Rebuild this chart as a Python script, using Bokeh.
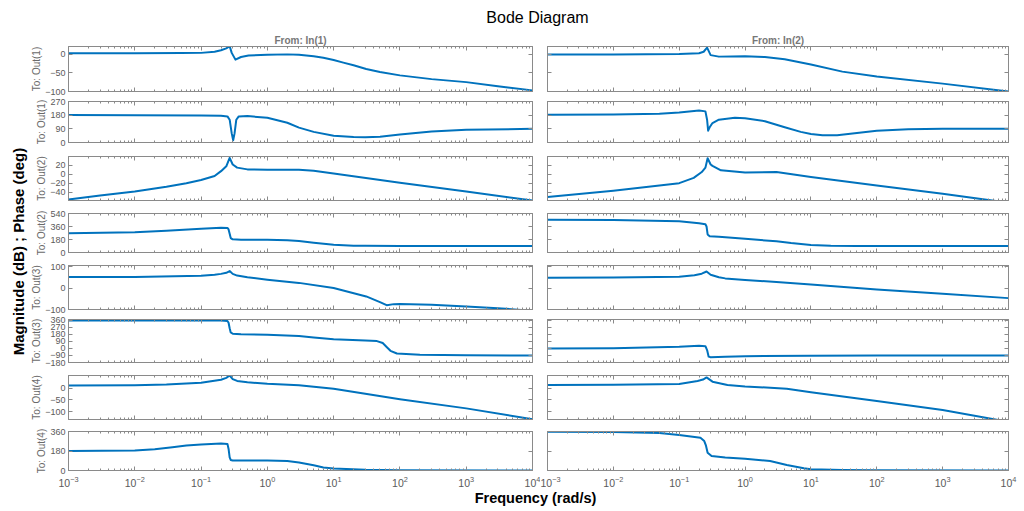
import math
from bokeh.plotting import figure
from bokeh.layouts import row, column
from bokeh.models import LogAxis, LinearAxis, FixedTicker, Label, Range1d, LogTickFormatter
from bokeh.embed import file_html
from bokeh.resources import INLINE

# ---------------- texts / ticks ----------------
title_text = "Bode Diagram"
x_label = "Frequency  (rad/s)"
y_label = "Magnitude (dB) ; Phase (deg)"
input_names = ["From: In(1)", "From: In(2)"]
row_labels = ["To: Out(1)", "To: Out(1)", "To: Out(2)", "To: Out(2)",
              "To: Out(3)", "To: Out(3)", "To: Out(4)", "To: Out(4)"]
freq_ticks = [0.001, 0.01, 0.1, 1, 10, 100, 1000, 10000]

ylim_mag1 = [-100, 20];   yticks_mag1 = [-100, -50, 0]
ylim_ph1 = [0, 270];      yticks_ph1 = [0, 90, 180, 270]
ylim_mag2 = [-59, 40];    yticks_mag2 = [-40, -20, 0, 20]
ylim_ph2 = [0, 540];      yticks_ph2 = [0, 180, 360, 540]
ylim_mag3 = [-100, 105];  yticks_mag3 = [-100, 0, 100]
ylim_ph3 = [-180, 372];   yticks_ph3 = [-180, -90, 0, 90, 180, 270, 360]
ylim_mag4 = [-133, 53];   yticks_mag4 = [-100, -50, 0]
ylim_ph4 = [0, 362];      yticks_ph4 = [0, 180, 360]

# ---------------- data: From In(1) ----------------
w_mag_o1_i1 = [0.001, 0.01, 0.05, 0.1, 0.16, 0.2, 0.24, 0.27, 0.29, 0.33, 0.4, 0.52, 1, 2, 3, 5, 7, 10, 14, 20, 31, 50, 100, 300, 1000, 3000, 10000]
mag_o1_i1 = [2, 2, 2.5, 3, 6, 10, 15, 21, 3, -15, -8, -4, -2, -1, -2, -6, -10, -16, -23, -30, -40, -48, -57, -67, -75, -86, -97]

w_ph_o1_i1 = [0.001, 0.01, 0.1, 0.2, 0.25, 0.27, 0.29, 0.305, 0.32, 0.34, 0.37, 0.5, 1, 2, 3, 5, 10, 20, 30, 50, 100, 300, 1000, 10000]
ph_o1_i1 = [181, 180, 178, 176, 172, 150, 60, 15, 60, 150, 172, 174, 163, 130, 98, 70, 45, 36, 35, 38, 52, 72, 84, 90]

w_mag_o2_i1 = [0.001, 0.003, 0.01, 0.03, 0.06, 0.1, 0.16, 0.2, 0.24, 0.27, 0.3, 0.35, 0.5, 1, 3, 5, 10, 100, 1000, 10000]
mag_o2_i1 = [-57, -48, -39, -28, -20, -13, -4, 7, 18, 37, 22, 15, 11, 10, 10, 8, 2, -19, -39, -59]

w_ph_o2_i1 = [0.001, 0.01, 0.03, 0.1, 0.2, 0.25, 0.26, 0.27, 0.28, 0.3, 0.4, 1, 2, 3, 5, 10, 20, 30, 100, 10000]
ph_o2_i1 = [268, 282, 300, 330, 343, 340, 320, 260, 200, 182, 178, 175, 168, 158, 135, 108, 95, 92, 90, 90]

w_mag_o3_i1 = [0.001, 0.01, 0.1, 0.16, 0.2, 0.24, 0.27, 0.3, 0.35, 0.5, 1, 3, 10, 31, 50, 63, 81, 100, 300, 1000, 3000, 6000, 10000]
mag_o3_i1 = [52, 52, 57, 62, 66, 71, 79, 66, 58, 50, 39, 24, 0, -39, -66, -80, -75, -74, -78, -86, -94, -101, -106]

w_ph_o3_i1 = [0.001, 0.1, 0.2, 0.25, 0.26, 0.27, 0.28, 0.3, 0.4, 1, 3, 5, 10, 30, 45, 55, 63, 72, 90, 200, 1000, 10000]
ph_o3_i1 = [360, 360, 358, 352, 330, 260, 205, 190, 184, 176, 160, 140, 118, 102, 95, 70, 20, -30, -65, -80, -88, -90]

w_mag_o4_i1 = [0.001, 0.01, 0.03, 0.1, 0.2, 0.24, 0.27, 0.3, 0.35, 0.5, 1, 3, 10, 30, 100, 1000, 10000]
mag_o4_i1 = [11, 12, 15, 22, 35, 43, 53, 38, 30, 24, 18, 12, -3, -24, -47, -86, -132]

w_ph_o4_i1 = [0.001, 0.01, 0.02, 0.037, 0.06, 0.1, 0.2, 0.25, 0.26, 0.27, 0.28, 0.3, 1, 2, 3, 5, 7, 10, 30, 100, 10000]
ph_o4_i1 = [180, 185, 198, 216, 232, 241, 250, 247, 200, 122, 98, 93, 92, 88, 75, 48, 28, 18, 6, 2, 0]

# ---------------- data: From In(2) ----------------
w_mag_o1_i2 = [0.001, 0.01, 0.1, 0.2, 0.235, 0.265, 0.3, 0.4, 1, 2, 4, 10, 30, 100, 1000, 10000]
mag_o1_i2 = [-1, -1, 0, 2, 6, 17, -3, -7, -6, -8, -14, -28, -47, -60, -79, -100]

w_ph_o1_i2 = [0.001, 0.01, 0.05, 0.1, 0.2, 0.25, 0.265, 0.275, 0.29, 0.32, 0.4, 0.7, 1, 2, 4, 7, 10, 15, 25, 50, 100, 300, 1000, 10000]
ph_o1_i2 = [182, 184, 190, 197, 210, 205, 150, 78, 100, 128, 150, 163, 160, 140, 100, 70, 56, 47, 48, 62, 77, 87, 90, 90]

w_mag_o2_i2 = [0.001, 0.01, 0.1, 0.166, 0.22, 0.25, 0.27, 0.3, 0.32, 0.43, 1, 3, 10, 100, 1000, 10000]
mag_o2_i2 = [-51, -37, -20, -8, 5, 15, 36, 22, 19, 9, 4, 5, -6, -25, -44, -64]

w_ph_o2_i2 = [0.001, 0.01, 0.1, 0.2, 0.25, 0.26, 0.27, 0.29, 0.4, 1, 3, 5, 10, 20, 50, 10000]
ph_o2_i2 = [453, 450, 432, 405, 392, 360, 250, 225, 218, 190, 155, 130, 103, 93, 91, 90]

w_mag_o3_i2 = [0.001, 0.01, 0.1, 0.17, 0.22, 0.26, 0.3, 0.4, 0.5, 1, 3, 10, 100, 1000, 10000]
mag_o3_i2 = [48, 49, 53, 60, 67, 77, 62, 50, 45, 38, 28, 16, -7, -27, -47]

w_ph_o3_i2 = [0.001, 0.01, 0.1, 0.2, 0.25, 0.265, 0.28, 0.3, 0.5, 1, 10, 100, 10000]
ph_o3_i2 = [0, 4, 22, 35, 30, -20, -105, -112, -105, -100, -92, -90, -90]

w_mag_o4_i2 = [0.001, 0.01, 0.1, 0.19, 0.23, 0.26, 0.32, 0.54, 1, 4.3, 10, 100, 1000, 10000]
mag_o4_i2 = [13, 14, 17, 30, 36, 45, 27, 13, 7, -3, -18, -55, -93, -143]

w_ph_o4_i2 = [0.001, 0.01, 0.05, 0.1, 0.21, 0.24, 0.255, 0.27, 0.31, 0.5, 1, 2.4, 4.3, 7.8, 10, 30, 100, 10000]
ph_o4_i2 = [360, 358, 348, 329, 304, 273, 230, 165, 134, 120, 110, 88, 51, 20, 12, 5, 2, 0]

ROWS = [
    (ylim_mag1, yticks_mag1, [(w_mag_o1_i1, mag_o1_i1), (w_mag_o1_i2, mag_o1_i2)]),
    (ylim_ph1, yticks_ph1, [(w_ph_o1_i1, ph_o1_i1), (w_ph_o1_i2, ph_o1_i2)]),
    (ylim_mag2, yticks_mag2, [(w_mag_o2_i1, mag_o2_i1), (w_mag_o2_i2, mag_o2_i2)]),
    (ylim_ph2, yticks_ph2, [(w_ph_o2_i1, ph_o2_i1), (w_ph_o2_i2, ph_o2_i2)]),
    (ylim_mag3, yticks_mag3, [(w_mag_o3_i1, mag_o3_i1), (w_mag_o3_i2, mag_o3_i2)]),
    (ylim_ph3, yticks_ph3, [(w_ph_o3_i1, ph_o3_i1), (w_ph_o3_i2, ph_o3_i2)]),
    (ylim_mag4, yticks_mag4, [(w_mag_o4_i1, mag_o4_i1), (w_mag_o4_i2, mag_o4_i2)]),
    (ylim_ph4, yticks_ph4, [(w_ph_o4_i1, ph_o4_i1), (w_ph_o4_i2, ph_o4_i2)]),
]

# ---------------- styling / geometry ----------------
FONT = "Liberation Sans"
FRAME = "#8a8a8a"
TXT = "#5a5a5a"
LINE = "#0072BD"
H = [68, 53, 57, 52, 56, 54, 57, 65]
BT = [18, 5, 7, 7, 7, 5, 7, 6]
BB = [5, 7, 6, 6, 5, 6, 6, 20]
YLAB_W = 28
LEFT_W = 540 - YLAB_W

minor_x = [m * t for t in freq_ticks[:-1] for m in range(2, 10)]


def tick_style(ax, show_labels):
    ax.axis_line_color = FRAME
    ax.major_tick_line_color = FRAME
    ax.minor_tick_line_color = FRAME
    ax.major_tick_in = 4
    ax.major_tick_out = 0
    ax.minor_tick_in = 2
    ax.minor_tick_out = 0
    if show_labels:
        ax.major_label_text_font = FONT
        ax.major_label_text_font_size = "9px"
        ax.major_label_text_color = TXT
        ax.major_label_standoff = 3
    else:
        ax.major_label_text_font_size = "1px"
        ax.major_label_text_alpha = 0
        ax.major_label_standoff = 0


def make_panel(r, c):
    ylim, yticks, curves = ROWS[r]
    w, v = curves[c]
    left = (c == 0)
    p = figure(width=LEFT_W if left else 484, height=H[r], x_axis_type="log",
               x_range=Range1d(freq_ticks[0], freq_ticks[-1]), y_range=Range1d(ylim[0], ylim[1]),
               output_backend="svg", toolbar_location=None,
               min_border_left=68 - YLAB_W if left else 7, min_border_right=8 if left else 16,
               min_border_top=BT[r], min_border_bottom=BB[r],
               outline_line_color=FRAME, background_fill_color="white",
               border_fill_color="white")
    p.grid.visible = False
    p.line(w, v, line_color=LINE, line_width=2, line_join="round")

    xb = p.xaxis[0]
    xb.ticker = FixedTicker(ticks=freq_ticks, minor_ticks=minor_x)
    tick_style(xb, r == 7)
    if r == 7:
        xb.formatter = LogTickFormatter()
        xb.major_label_text_font_size = "10.5px"
        xb.major_label_standoff = 5
    xa = LogAxis(ticker=FixedTicker(ticks=freq_ticks, minor_ticks=minor_x))
    tick_style(xa, False)
    p.add_layout(xa, "above")

    yl = p.yaxis[0]
    yl.ticker = FixedTicker(ticks=yticks)
    tick_style(yl, left)
    yl.minor_tick_line_color = None
    if left:
        yl.axis_label = row_labels[r]
        yl.axis_label_text_font = FONT
        yl.axis_label_text_font_size = "10px"
        yl.axis_label_text_font_style = "normal"
        yl.axis_label_text_color = "#6a6a6a"
        yl.axis_label_standoff = 0
    yr = LinearAxis(ticker=FixedTicker(ticks=yticks))
    tick_style(yr, False)
    yr.minor_tick_line_color = None
    p.add_layout(yr, "right")

    if r == 0:
        p.title.text = input_names[c]
        p.title.align = "center"
        p.title.text_font = FONT
        p.title.text_font_size = "10px"
        p.title.text_font_style = "bold"
        p.title.text_color = "#777777"
        p.title.standoff = 2
    return p


def blank(wd, ht):
    p = figure(width=wd, height=ht, x_range=Range1d(0, wd), y_range=Range1d(0, ht),
               output_backend="svg", toolbar_location=None, min_border=0,
               x_axis_location=None, y_axis_location=None, outline_line_color=None)
    p.grid.visible = False
    return p


title_fig = blank(1024, 28)
title_fig.add_layout(Label(x=537, y=11, text=title_text, text_align="center",
                           text_baseline="middle", text_font=FONT,
                           text_font_size="16px", text_color="black"))

ylabel_fig = blank(YLAB_W, 462)
ylabel_fig.add_layout(Label(x=18, y=239, text=y_label, angle=math.pi / 2,
                            text_align="center", text_baseline="middle",
                            text_font=FONT, text_font_size="15px",
                            text_font_style="bold", text_color="black"))

xlabel_fig = blank(1024, 21)
xlabel_fig.add_layout(Label(x=537, y=13.5, text=x_label, text_align="center",
                            text_baseline="middle", text_font=FONT,
                            text_font_size="14.5px", text_font_style="bold",
                            text_color="black"))

col_left = column([make_panel(r, 0) for r in range(8)], spacing=0)
col_right = column([make_panel(r, 1) for r in range(8)], spacing=0)

layout = column(title_fig, row(ylabel_fig, col_left, col_right, spacing=0), xlabel_fig, spacing=0)

open("out.html", "w").write(file_html(layout, INLINE))
